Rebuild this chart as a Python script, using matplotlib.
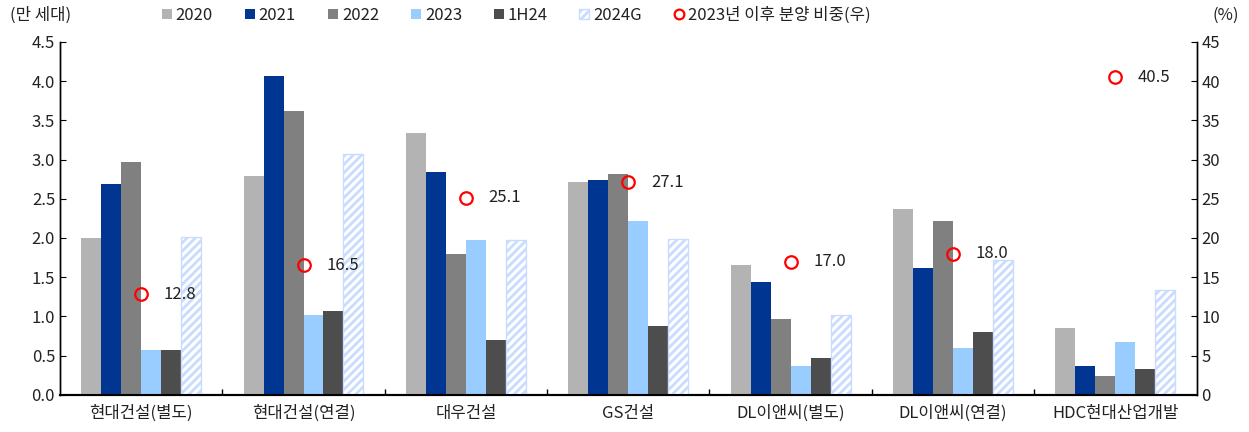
import matplotlib.pyplot as plt
from matplotlib.patches import Patch
from matplotlib.lines import Line2D
import numpy as np

plt.rcParams["font.family"] = ["Noto Sans CJK KR", "DejaVu Sans"]
plt.rcParams["hatch.linewidth"] = 2.0

companies = ["현대건설(별도)", "현대건설(연결)", "대우건설", "GS건설",
             "DL이앤씨(별도)", "DL이앤씨(연결)", "HDC현대산업개발"]
series_names = ["2020", "2021", "2022", "2023", "1H24", "2024G"]
v2020 = [2.00, 2.79, 3.34, 2.72, 1.65, 2.37, 0.85]
v2021 = [2.69, 4.07, 2.84, 2.74, 1.44, 1.62, 0.37]
v2022 = [2.97, 3.62, 1.80, 2.82, 0.97, 2.22, 0.24]
v2023 = [0.57, 1.02, 1.98, 2.22, 0.37, 0.60, 0.68]
v1h24 = [0.57, 1.07, 0.70, 0.88, 0.47, 0.80, 0.33]
v2024g = [2.01, 3.07, 1.97, 1.99, 1.02, 1.72, 1.34]
share = [12.8, 16.5, 25.1, 27.1, 17.0, 18.0, 40.5]
share_label = "2023년 이후 분양 비중(우)"

colors = ["#B3B3B3", "#003591", "#808080", "#99CCFF", "#4D4D4D", "#FFFFFF"]
HATCH_C = "#C9DCFF"
TEXT = "#222222"
FS = 12

fig = plt.figure(figsize=(12.49, 4.32), dpi=100)
ax = fig.add_axes([0.048, 0.086, 0.910, 0.817])
ax2 = ax.twinx()

x = np.arange(len(companies))
w = 0.123
series = [v2020, v2021, v2022, v2023, v1h24, v2024g]
for i, vals in enumerate(series):
    off = (i - 2.5) * w
    if series_names[i] == "2024G":
        ax.bar(x + off, vals, w, color="white", edgecolor=HATCH_C, hatch="////",
               linewidth=1.0, zorder=3)
    else:
        ax.bar(x + off, vals, w, color=colors[i], linewidth=0, zorder=3)

ax2.plot(x, share, "o", mfc="none", mec="red", mew=1.6, ms=9, ls="none", zorder=4)
for xi, s in zip(x, share):
    ax2.text(xi + 0.14, s, f"{s:.1f}", va="center", ha="left", fontsize=FS, color=TEXT)

ax.set_xlim(-0.5, len(companies) - 0.5)
ax.set_ylim(0, 4.5)
ax.set_yticks(np.arange(0, 4.51, 0.5))
ax.set_yticklabels([f"{t:.1f}" for t in np.arange(0, 4.51, 0.5)])
ax2.set_ylim(0, 45)
ax2.set_yticks(np.arange(0, 46, 5))

ax.set_xticks(x)
ax.set_xticklabels(companies, fontsize=FS, color=TEXT)
ax.set_xticks(np.arange(0.5, len(companies) - 0.5, 1), minor=True)
ax.tick_params(axis="x", which="major", length=0, pad=7)
ax.tick_params(axis="x", which="minor", direction="in", length=4, width=1)
ax.tick_params(axis="y", direction="in", length=4, labelsize=FS, labelcolor=TEXT)
ax2.tick_params(axis="y", direction="in", length=4, labelsize=FS, labelcolor=TEXT)

for a in (ax, ax2):
    a.spines["top"].set_visible(False)
    a.spines["bottom"].set_linewidth(1.5)
    a.spines["left"].set_linewidth(1.0)
    a.spines["right"].set_linewidth(1.0)

fig.text(0.008, 0.965, "(만 세대)", fontsize=FS, color=TEXT, va="center")
fig.text(0.971, 0.965, "(%)", fontsize=FS, color=TEXT, va="center")

handles = [Patch(facecolor=c, edgecolor="none") for c in colors[:5]]
handles.append(Patch(facecolor="white", edgecolor=HATCH_C, hatch="////"))
handles.append(Line2D([], [], marker="o", mfc="none", mec="red", mew=1.6, ms=7, ls="none"))
fig.legend(handles, series_names + [share_label], ncol=7, frameon=False,
           loc="center left", bbox_to_anchor=(0.124, 0.965), fontsize=FS,
           handlelength=0.6, handleheight=0.6, handletextpad=0.25, columnspacing=1.9,
           borderaxespad=0, labelcolor=TEXT)

fig.savefig("out.png", dpi=100, facecolor="white")
